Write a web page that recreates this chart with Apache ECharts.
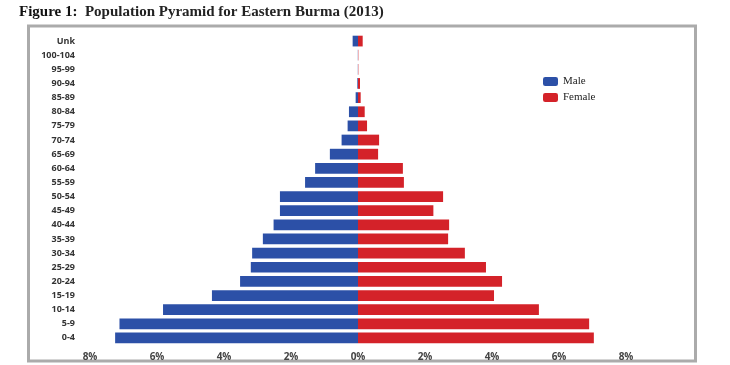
<!DOCTYPE html>
<html>
<head>
<meta charset="utf-8">
<script src="https://cdn.jsdelivr.net/npm/echarts@6/dist/echarts.min.js"></script>
<style>html,body{margin:0;padding:0;background:#fff}#c{width:730px;height:365px}</style>
</head>
<body>
<div id="c"></div>
<script>
const categories = ['0-4','5-9','10-14','15-19','20-24','25-29','30-34','35-39','40-44','45-49','50-54','55-59','60-64','65-69','70-74','75-79','80-84','85-89','90-94','95-99','100-104','Unk'];
const maleValues = [7.25,7.12,5.82,4.36,3.52,3.20,3.16,2.84,2.52,2.33,2.33,1.58,1.28,0.84,0.49,0.31,0.27,0.07,0.02,0.005,0.005,0.16];
const femaleValues = [7.04,6.90,5.40,4.06,4.30,3.82,3.19,2.69,2.72,2.25,2.54,1.37,1.34,0.60,0.63,0.27,0.20,0.08,0.06,0.01,0.01,0.14];
const xTicks = [-8,-6,-4,-2,0,2,4,6,8];

const chart = echarts.init(document.getElementById('c'));
chart.setOption({
  animation: false,
  title: {
    text: '{b|Figure 1:}  Population Pyramid for Eastern Burma (2013)',
    left: 14, top: 0,
    textStyle: {
      fontFamily: 'Liberation Serif', fontSize: 15, fontWeight: 'bold', color: '#222',
      rich: { b: { fontFamily: 'Liberation Serif', fontSize: 15, fontWeight: 'bold', color: '#111' } }
    }
  },
  graphic: [{
    type: 'rect', silent: true, z: -1,
    shape: { x: 28.5, y: 26, width: 667, height: 335 },
    style: { fill: 'none', stroke: '#ababab', lineWidth: 3 }
  }],
  legend: {
    orient: 'vertical', left: 538, top: 71, itemWidth: 15, itemHeight: 9, itemGap: 5,
    textStyle: { fontFamily: 'Liberation Serif', fontSize: 11, color: '#222' },
    data: ['Male', 'Female']
  },
  grid: { left: 90, width: 536, top: 34, bottom: 20, containLabel: false },
  xAxis: {
    type: 'value', min: xTicks[0], max: xTicks[xTicks.length - 1], interval: 2,
    axisLine: { show: false }, axisTick: { show: false }, splitLine: { show: false },
    axisLabel: {
      margin: 7, color: '#444', fontFamily: 'Open Sans', fontWeight: 'bold', fontSize: 10,
      formatter: v => Math.abs(v) + '%'
    }
  },
  yAxis: {
    type: 'category', data: categories,
    axisLine: { show: false }, axisTick: { show: false },
    axisLabel: { margin: 15, color: '#333', fontFamily: 'Open Sans', fontWeight: 'bold', fontSize: 9 }
  },
  series: [
    {
      name: 'Male', type: 'bar', stack: 'p', barCategoryGap: '24%',
      data: maleValues.map(v => -v),
      itemStyle: { color: '#2c50a7' }
    },
    {
      name: 'Female', type: 'bar', stack: 'p', barCategoryGap: '24%',
      data: femaleValues,
      itemStyle: { color: '#d42229' }
    }
  ]
});
</script>
</body>
</html>
